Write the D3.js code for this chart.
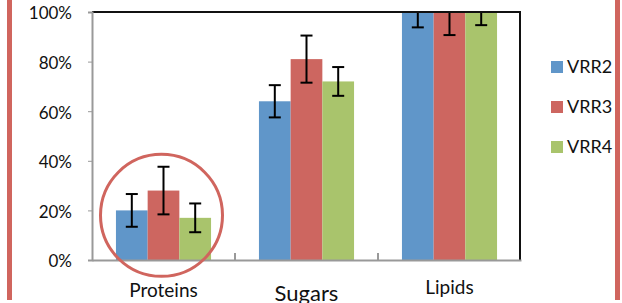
<!DOCTYPE html>
<html>
<head>
<meta charset="utf-8">
<script src="https://cdn.jsdelivr.net/npm/d3@7"></script>
<style>
body { margin: 0; background: #fff; }
text { font-family: "Lato", "Open Sans", sans-serif; fill: #111; }
</style>
</head>
<body>
<script>
// chart values
var categories = ["Proteins", "Sugars", "Lipids"];
var series = ["VRR2", "VRR3", "VRR4"];
var colors = ["#6096c9", "#cd6660", "#a9c46c"];
var values = [
  [0.20, 0.64, 1.00],
  [0.28, 0.81, 1.00],
  [0.17, 0.72, 1.00]
];
var errors = [
  [0.066, 0.065, 0.062],
  [0.096, 0.095, 0.093],
  [0.058, 0.058, 0.053]
];
var yTicks = [0, 0.2, 0.4, 0.6, 0.8, 1.0];

var W = 622, H = 303;
var pLeft = 92, pRight = 521, pTop = 12, pBottom = 260;

var svg = d3.select("body").append("svg")
  .attr("width", W)
  .attr("height", H);

var x0 = d3.scaleBand()
  .domain(categories)
  .range([pLeft, pRight])
  .paddingInner(0)
  .paddingOuter(0);

var x1 = d3.scaleBand()
  .domain(series)
  .range([0, x0.bandwidth() * 0.665]);

var y = d3.scaleLinear()
  .domain([0, 1])
  .range([pBottom, pTop]);

// outer red border lines
svg.append("rect").attr("x", 7).attr("y", 0).attr("width", 5).attr("height", 300).attr("fill", "#d0655e");
svg.append("rect").attr("x", 615).attr("y", 0).attr("width", 5).attr("height", 300).attr("fill", "#d0655e");

// bars
var offset = (x0.bandwidth() - x1.range()[1]) / 2;
series.forEach(function(s, i) {
  svg.append("g").selectAll("rect")
    .data(categories)
    .enter().append("rect")
    .attr("x", function(c) { return x0(c) + offset + x1(s); })
    .attr("y", function(c, j) { return y(values[i][j]); })
    .attr("width", x1.bandwidth())
    .attr("height", function(c, j) { return y(0) - y(values[i][j]); })
    .attr("fill", colors[i]);
});

// error bars (clipped to plot area)
svg.append("clipPath").attr("id", "plotclip")
  .append("rect").attr("x", pLeft).attr("y", pTop).attr("width", pRight - pLeft).attr("height", pBottom - pTop);

var eb = svg.append("g").attr("clip-path", "url(#plotclip)")
  .attr("stroke", "#000").attr("stroke-width", 2);
series.forEach(function(s, i) {
  categories.forEach(function(c, j) {
    var cx = x0(c) + offset + x1(s) + x1.bandwidth() / 2;
    var hi = y(values[i][j] + errors[i][j]), lo = y(values[i][j] - errors[i][j]);
    eb.append("line").attr("x1", cx).attr("x2", cx).attr("y1", hi).attr("y2", lo);
    eb.append("line").attr("x1", cx - 6).attr("x2", cx + 6).attr("y1", hi).attr("y2", hi);
    eb.append("line").attr("x1", cx - 6).attr("x2", cx + 6).attr("y1", lo).attr("y2", lo);
  });
});

// plot frame: top and right black
svg.append("line").attr("x1", pLeft).attr("x2", pRight).attr("y1", pTop).attr("y2", pTop)
  .attr("stroke", "#111").attr("stroke-width", 2);
svg.append("line").attr("x1", pRight - 1).attr("x2", pRight - 1).attr("y1", pTop).attr("y2", pBottom)
  .attr("stroke", "#111").attr("stroke-width", 2);

// y axis
var yAxis = d3.axisLeft(y)
  .tickValues(yTicks)
  .tickSize(4)
  .tickPadding(16)
  .tickFormat(d3.format(".0%"));

var ya = svg.append("g")
  .attr("transform", "translate(" + pLeft + ",0)")
  .call(yAxis);
ya.select(".domain").attr("stroke", "#999").attr("stroke-width", 2);
ya.selectAll(".tick line").attr("stroke", "#999");
ya.selectAll("text").style("font-size", "17px").attr("dy", "0.4em").style("fill", "#111");

// x axis
var xAxis = d3.axisBottom(x0).tickSize(0).tickFormat("");
var xa = svg.append("g")
  .attr("transform", "translate(0," + pBottom + ")")
  .call(xAxis);
xa.select(".domain").attr("stroke", "#999").attr("stroke-width", 2);
xa.selectAll(".tick").remove();

// category boundary ticks (inside)
svg.append("g").selectAll("line")
  .data(categories.slice(1))
  .enter().append("line")
  .attr("x1", function(c) { return x0(c); })
  .attr("x2", function(c) { return x0(c); })
  .attr("y1", pBottom - 7).attr("y2", pBottom)
  .attr("stroke", "#999").attr("stroke-width", 2);

// category labels (as pasted in the source, not uniform)
var labelSize = [19, 22, 19];
var labelY = [297, 301, 294];
svg.append("g").selectAll("text")
  .data(categories)
  .enter().append("text")
  .attr("x", function(c) { return x0(c) + x0.bandwidth() / 2; })
  .attr("y", function(c, j) { return labelY[j]; })
  .attr("text-anchor", "middle")
  .style("font-size", function(c, j) { return labelSize[j] + "px"; })
  .text(function(c) { return c; });

// legend
var lg = svg.append("g").selectAll("g")
  .data(series)
  .enter().append("g")
  .attr("transform", function(s, i) { return "translate(551," + (61 + i * 40) + ")"; });
lg.append("rect").attr("width", 12).attr("height", 12)
  .attr("fill", function(s, i) { return colors[i]; });
lg.append("text").attr("x", 16).attr("y", 6).attr("dy", "0.36em")
  .style("font-size", "18px")
  .text(function(s) { return s; });

// highlight circle around Proteins
svg.append("circle")
  .attr("cx", x0("Proteins") + x0.bandwidth() / 2 - 2)
  .attr("cy", y(0.18))
  .attr("r", 61)
  .attr("fill", "none")
  .attr("stroke", "#d0655e")
  .attr("stroke-width", 3);
</script>
</body>
</html>
